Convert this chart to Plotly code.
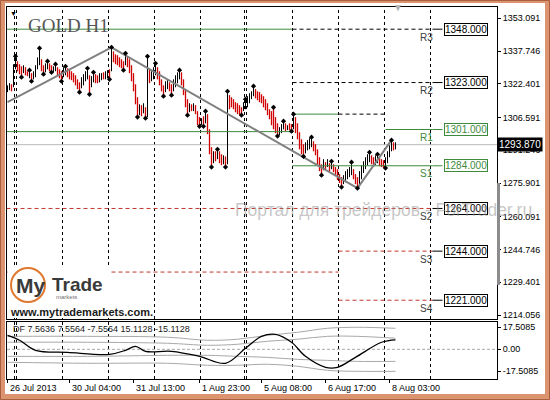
import plotly.graph_objects as go

# ---------------- data ----------------
bar_index = list(range(195))
open_ = [
    1319.0, 1320.8, 1322.0, 1321.2, 1330.6, 1332.6, 1330.8, 1328.6, 1327.8, 1329.8,
    1327.9, 1325.6, 1327.0, 1324.9, 1326.4, 1330.0, 1332.2, 1333.6, 1330.6, 1328.2,
    1329.8, 1331.6, 1330.6, 1328.2, 1328.8, 1329.8, 1328.8, 1327.8, 1326.0, 1327.0,
    1329.2, 1328.8, 1327.8, 1326.9, 1326.0, 1324.1, 1322.7, 1320.8, 1322.2, 1324.1,
    1325.0, 1326.0, 1321.2, 1323.6, 1326.4, 1326.0, 1323.6, 1324.5, 1327.4, 1325.0,
    1325.5, 1328.8, 1328.8, 1337.2, 1335.8, 1335.3, 1334.4, 1333.4, 1332.5, 1331.6,
    1334.8, 1333.4, 1330.6, 1326.9, 1321.7, 1315.6, 1308.2, 1311.9, 1309.1, 1311.0,
    1307.2, 1328.8, 1324.1, 1325.0, 1327.0, 1329.7, 1327.8, 1324.1, 1321.2, 1318.9,
    1320.3, 1322.7, 1321.7, 1319.4, 1321.2, 1323.1, 1325.0, 1327.4, 1324.1, 1319.4,
    1314.7, 1309.6, 1312.4, 1310.0, 1311.9, 1309.1, 1306.3, 1303.5, 1306.8, 1304.4,
    1307.7, 1300.7, 1292.2, 1285.7, 1290.3, 1287.5, 1290.3, 1288.9, 1285.2, 1288.0,
    1285.2, 1316.6, 1315.6, 1314.7, 1313.3, 1312.8, 1311.9, 1311.0, 1310.0, 1311.0,
    1311.9, 1313.8, 1315.6, 1317.1, 1319.4, 1318.5, 1318.0, 1317.1, 1316.1, 1314.7,
    1312.8, 1310.0, 1309.1, 1311.0, 1306.3, 1303.5, 1298.8, 1299.7, 1301.6, 1303.5,
    1301.1, 1303.5, 1303.0, 1301.6, 1306.3, 1303.5, 1299.3, 1296.0, 1293.6, 1290.3,
    1291.7, 1292.2, 1293.1, 1295.0, 1293.6, 1291.2, 1287.5, 1284.3, 1282.4, 1285.2,
    1283.8, 1284.7, 1282.9, 1284.3, 1282.9, 1281.9, 1279.6, 1278.2, 1275.9, 1276.8,
    1278.2, 1279.2, 1280.1, 1281.9, 1279.6, 1278.2, 1275.4, 1278.2, 1281.0, 1282.9,
    1284.7, 1286.1, 1288.4, 1287.5, 1284.7, 1285.7, 1287.5, 1286.6, 1286.1, 1283.4,
    1285.7, 1288.4, 1291.2, 1294.6, 1292.7,
]
high = [
    1321.7, 1322.7, 1322.2, 1331.6, 1335.3, 1333.0, 1331.6, 1330.6, 1331.1, 1330.2,
    1328.3, 1328.8, 1327.4, 1328.3, 1331.1, 1334.8, 1339.1, 1333.9, 1331.1, 1332.0,
    1333.0, 1332.0, 1331.1, 1330.6, 1331.6, 1330.2, 1329.2, 1328.3, 1330.2, 1330.6,
    1329.7, 1329.2, 1328.3, 1327.4, 1326.4, 1324.5, 1323.1, 1325.5, 1326.9, 1328.3,
    1329.7, 1326.4, 1326.0, 1327.8, 1326.9, 1326.4, 1327.4, 1327.4, 1327.8, 1328.3,
    1328.8, 1329.2, 1339.5, 1337.6, 1336.2, 1335.8, 1334.8, 1333.9, 1333.0, 1336.7,
    1335.3, 1333.9, 1331.1, 1327.4, 1322.2, 1316.1, 1312.8, 1312.4, 1313.3, 1311.4,
    1335.3, 1329.2, 1328.3, 1330.2, 1332.0, 1330.2, 1328.3, 1324.5, 1321.7, 1323.6,
    1324.5, 1323.1, 1322.2, 1324.5, 1326.4, 1327.8, 1328.8, 1327.8, 1324.5, 1319.9,
    1315.2, 1313.3, 1312.8, 1313.3, 1312.4, 1309.6, 1306.8, 1306.3, 1307.2, 1309.6,
    1308.2, 1301.1, 1292.7, 1290.8, 1290.8, 1291.7, 1290.8, 1289.4, 1288.9, 1288.4,
    1318.9, 1317.1, 1316.1, 1315.2, 1313.8, 1313.3, 1312.4, 1311.4, 1313.8, 1315.2,
    1316.6, 1318.0, 1318.9, 1321.3, 1319.9, 1318.9, 1318.5, 1317.5, 1316.6, 1315.2,
    1313.3, 1310.5, 1309.6, 1311.4, 1306.8, 1303.9, 1302.1, 1303.5, 1304.9, 1303.9,
    1303.0, 1303.9, 1303.5, 1308.2, 1306.8, 1303.9, 1299.7, 1296.4, 1294.1, 1295.0,
    1296.0, 1296.9, 1297.4, 1295.5, 1294.1, 1291.7, 1288.0, 1284.7, 1287.1, 1285.7,
    1287.1, 1285.2, 1286.1, 1284.7, 1283.4, 1282.4, 1280.1, 1278.7, 1279.6, 1281.5,
    1282.4, 1283.4, 1285.7, 1282.4, 1280.1, 1278.7, 1281.5, 1284.3, 1286.1, 1288.0,
    1289.4, 1290.3, 1288.9, 1288.0, 1288.9, 1289.4, 1288.0, 1287.1, 1286.6, 1288.0,
    1290.8, 1293.6, 1296.0, 1295.0, 1295.0,
]
low = [
    1318.5, 1319.4, 1318.9, 1320.8, 1329.2, 1328.3, 1326.9, 1325.5, 1327.4, 1326.4,
    1326.0, 1325.0, 1323.6, 1324.5, 1325.5, 1329.2, 1331.1, 1328.3, 1326.9, 1327.8,
    1329.2, 1328.3, 1327.8, 1327.8, 1328.3, 1326.4, 1325.0, 1323.6, 1325.5, 1326.4,
    1325.5, 1324.5, 1324.1, 1323.1, 1321.7, 1319.9, 1318.5, 1320.3, 1321.7, 1323.6,
    1324.5, 1317.5, 1320.8, 1323.1, 1322.7, 1322.7, 1323.1, 1324.1, 1324.5, 1324.5,
    1325.0, 1324.5, 1328.3, 1332.5, 1331.6, 1331.1, 1330.2, 1329.7, 1328.8, 1331.1,
    1330.2, 1327.4, 1323.6, 1318.9, 1312.8, 1306.8, 1307.7, 1307.2, 1308.6, 1306.3,
    1306.8, 1322.7, 1323.6, 1324.5, 1326.4, 1324.5, 1321.7, 1318.9, 1316.6, 1318.5,
    1319.9, 1318.9, 1317.1, 1318.9, 1320.8, 1322.7, 1324.5, 1321.7, 1317.1, 1311.4,
    1307.7, 1309.1, 1309.6, 1309.6, 1308.2, 1303.0, 1302.5, 1303.0, 1302.5, 1303.9,
    1298.8, 1289.4, 1283.4, 1285.2, 1286.1, 1287.1, 1285.2, 1284.3, 1284.7, 1283.4,
    1284.7, 1310.5, 1311.4, 1310.5, 1309.1, 1308.2, 1307.7, 1307.7, 1309.6, 1310.5,
    1311.4, 1313.3, 1315.2, 1316.6, 1315.6, 1314.7, 1313.8, 1313.3, 1311.4, 1310.0,
    1307.7, 1305.8, 1303.0, 1301.1, 1299.3, 1297.9, 1298.3, 1299.3, 1301.1, 1300.2,
    1300.7, 1300.7, 1300.2, 1301.1, 1299.3, 1296.4, 1291.7, 1289.4, 1288.4, 1289.8,
    1291.2, 1291.7, 1292.7, 1290.8, 1288.9, 1284.7, 1281.5, 1279.6, 1281.9, 1282.4,
    1283.4, 1281.5, 1282.4, 1281.0, 1279.2, 1277.3, 1275.9, 1274.0, 1275.4, 1276.3,
    1277.7, 1278.7, 1279.6, 1277.7, 1275.4, 1273.5, 1274.9, 1277.7, 1280.6, 1282.4,
    1284.3, 1285.7, 1284.7, 1283.4, 1284.3, 1285.2, 1283.8, 1283.4, 1282.9, 1282.9,
    1285.2, 1288.0, 1290.8, 1291.2, 1291.7,
]
close = [
    1321.2, 1322.2, 1319.6, 1330.8, 1334.2, 1329.0, 1327.4, 1326.0, 1330.4, 1327.0,
    1326.4, 1328.0, 1324.0, 1327.6, 1330.6, 1334.0, 1337.8, 1328.8, 1327.4, 1331.4,
    1332.4, 1328.8, 1328.2, 1330.2, 1331.0, 1326.9, 1325.5, 1324.1, 1329.7, 1330.0,
    1326.0, 1325.0, 1324.5, 1323.6, 1322.2, 1320.3, 1319.0, 1325.0, 1326.4, 1327.8,
    1329.2, 1318.0, 1325.5, 1327.4, 1323.1, 1323.1, 1326.9, 1326.9, 1325.0, 1327.8,
    1328.3, 1325.0, 1338.6, 1333.0, 1332.0, 1331.6, 1330.6, 1330.2, 1329.2, 1336.2,
    1330.6, 1327.8, 1324.1, 1319.4, 1313.3, 1307.2, 1312.4, 1307.7, 1312.8, 1306.8,
    1330.0, 1323.1, 1327.8, 1329.7, 1331.6, 1325.0, 1322.2, 1319.4, 1317.1, 1323.1,
    1324.1, 1319.4, 1317.5, 1324.1, 1326.0, 1327.4, 1328.3, 1322.2, 1317.5, 1311.9,
    1308.2, 1312.8, 1310.0, 1312.8, 1308.6, 1303.5, 1303.0, 1305.8, 1303.0, 1309.1,
    1299.3, 1289.8, 1283.8, 1290.3, 1286.6, 1291.2, 1285.7, 1284.7, 1288.4, 1283.8,
    1314.7, 1311.0, 1311.9, 1311.0, 1309.6, 1308.6, 1308.2, 1308.2, 1313.3, 1314.7,
    1316.1, 1317.5, 1318.5, 1320.8, 1316.1, 1315.2, 1314.2, 1313.8, 1311.9, 1310.5,
    1308.2, 1306.3, 1303.5, 1301.6, 1299.7, 1298.3, 1301.6, 1303.0, 1304.4, 1300.7,
    1302.5, 1301.1, 1300.7, 1307.7, 1299.7, 1296.9, 1292.2, 1289.8, 1288.9, 1294.6,
    1295.5, 1296.4, 1296.9, 1291.2, 1289.4, 1285.2, 1281.9, 1280.1, 1286.6, 1282.9,
    1286.6, 1281.9, 1285.7, 1281.5, 1279.6, 1277.7, 1276.3, 1274.4, 1279.2, 1281.0,
    1281.9, 1282.9, 1285.2, 1278.2, 1275.9, 1274.0, 1281.0, 1283.8, 1285.7, 1287.5,
    1288.9, 1289.8, 1285.2, 1283.8, 1288.4, 1288.9, 1284.3, 1283.8, 1283.4, 1287.5,
    1290.3, 1293.1, 1295.5, 1292.7, 1293.87,
]
current_price = 1293.87

fractal_up = [4, 11, 16, 20, 24, 29, 40, 43, 52, 59, 70, 74, 86, 99, 105, 110, 119,
              123, 133, 138, 143, 152, 162, 172, 181, 185, 192]
fractal_down = [7, 12, 18, 22, 27, 36, 41, 51, 58, 65, 69, 78, 82, 90, 96, 98, 102,
                109, 117, 135, 142, 148, 157, 167, 175, 189]

zigzag_idx = [0, 52, 175, 192]
zigzag_price = [1313.8, 1339.5, 1273.5, 1296.0]

# pivot segments (price, from bar, to bar, kind)
seg_price = [1348.0, 1348.0, 1323.0, 1308.2, 1308.2, 1301.0, 1300.0, 1284.0,
             1264.0, 1234.2, 1244.0, 1221.0]
seg_from = [-0.5, 142.5, 142.5, 142.5, 165.5, 189.0, -0.5, 142.5, -0.5, -0.5, 165.5, 165.5]
seg_to = [142.5, 212.5, 212.5, 165.5, 189.0, 212.5, 142.5, 212.5, 212.5, 165.5, 212.5, 212.5]
seg_kind = ["prev", "cur", "cur", "prev", "cur", "prev", "prev", "prev",
            "sup", "sup", "sup", "sup"]

level_names = ["R3", "R2", "R1", "S1", "S2", "S3", "S4"]
level_values = [1348.0, 1323.0, 1301.0, 1284.0, 1264.0, 1244.0, 1221.0]

day_separators = [3.5, 4.5, 27.5, 50.5, 73.5, 96.5, 118.5, 119.5, 142.5, 165.5, 188.5, 211.5]

time_tick_idx = [0, 31, 63, 96, 127, 159, 191]
time_tick_text = ["26 Jul 2013", "30 Jul 04:00", "31 Jul 13:00", "1 Aug 23:00",
                  "5 Aug 08:00", "6 Aug 17:00", "8 Aug 03:00"]

price_ticks = [1353.091, 1337.746, 1322.401, 1306.591, 1291.246, 1275.901,
               1260.091, 1244.746, 1229.401, 1214.056]

df_idx = [0, 6, 14, 30, 51, 59, 64, 69, 82, 96, 109, 119, 127, 134, 142, 149,
          159, 165, 174, 187, 194]
df_value = [11.1, 7.2, -0.8, -2.4, -4.0, -0.8, 2.4, -1.6, -1.6, -5.6, -11.1, 0.8,
            10.3, 11.9, 5.6, -5.6, -14.3, -14.3, -6.4, 5.6, 7.5636]
band_idx = [0, 40, 80, 100, 115, 130, 145, 160, 175, 194]
band_up_outer = [10.3, 10.3, 9.6, 7.2, 8.0, 11.1, 13.5, 16.7, 17.5, 16.7]
band_up_inner = [5.6, 5.6, 4.8, 3.2, 4.0, 6.4, 8.0, 10.3, 10.3, 8.8]
band_dn_inner = [-5.6, -5.6, -4.8, -4.8, -5.6, -6.4, -8.0, -8.8, -9.6, -9.6]
band_dn_outer = [-10.3, -11.1, -11.1, -12.7, -12.7, -11.9, -13.5, -16.7, -17.5, -17.5]
df_legend = "DF 7.5636 7.5564 -7.5564 15.1128 -15.1128"
df_ticks = [17.5085, 0.0, -17.5085]
df_ticktext = ["17.5085", "0.00", "-17.5085"]

# ---------------- styling ----------------
GREEN = "#3d8a3d"
RED_BAR = "#d00000"
RED_LINE = "#c0392b"
FONT = "Liberation Sans"
X_RANGE = [-0.25, 244.75]

# pixel helpers for decorations (plot area: x 7..497, y 7..379)
def px(xp):
    return (xp - 7) / 490.0

def py(yp):
    return (379 - yp) / 372.0

fig = go.Figure()

# pivot segments
kind_style = {
    "prev": dict(color=GREEN, width=1, dash="solid"),
    "cur": dict(color="#000000", width=1, dash="4px,3px"),
    "sup": dict(color=RED_LINE, width=1, dash="4px,3px"),
}
for kind in ["prev", "cur", "sup"]:
    xs, ys = [], []
    for p, a, b, k in zip(seg_price, seg_from, seg_to, seg_kind):
        if k == kind:
            xs += [a, b, None]
            ys += [p, p, None]
    fig.add_trace(go.Scatter(x=xs, y=ys, mode="lines", line=kind_style[kind],
                             hoverinfo="skip", xaxis="x", yaxis="y"))

# connectors to the level boxes
for name, v in zip(level_names, level_values):
    col = GREEN if name in ("R1", "S1") else "#000000"
    fig.add_trace(go.Scatter(x=[212.5, 217.5], y=[v, v], mode="lines",
                             line=dict(color=col, width=1), hoverinfo="skip",
                             xaxis="x", yaxis="y"))

# price bars
fig.add_trace(go.Ohlc(
    x=bar_index, open=open_, high=high, low=low, close=close,
    increasing=dict(line=dict(color="#000000", width=1)),
    decreasing=dict(line=dict(color=RED_BAR, width=1.3)),
    tickwidth=0, hoverinfo="skip", xaxis="x", yaxis="y"))

# zigzag
fig.add_trace(go.Scatter(x=zigzag_idx, y=zigzag_price, mode="lines",
                         line=dict(color="#808080", width=2), hoverinfo="skip",
                         xaxis="x", yaxis="y"))

# fractals
fig.add_trace(go.Scatter(x=fractal_up, y=[high[i] for i in fractal_up], mode="markers",
                         marker=dict(symbol="diamond", size=4, color="#000000"),
                         hoverinfo="skip", xaxis="x", yaxis="y"))
fig.add_trace(go.Scatter(x=fractal_down, y=[low[i] for i in fractal_down], mode="markers",
                         marker=dict(symbol="diamond", size=4, color="#000000"),
                         hoverinfo="skip", xaxis="x", yaxis="y"))

# lower panel
for band in [band_up_outer, band_up_inner, band_dn_inner, band_dn_outer]:
    fig.add_trace(go.Scatter(x=band_idx, y=band, mode="lines", line_shape="spline",
                             line=dict(color="#a8a8a8", width=1), hoverinfo="skip",
                             xaxis="x2", yaxis="y2"))
fig.add_trace(go.Scatter(x=df_idx, y=df_value, mode="lines", line_shape="spline",
                         line=dict(color="#000000", width=1.3), hoverinfo="skip",
                         xaxis="x2", yaxis="y2"))

shapes = []
# white interior of the window frame
shapes.append(dict(type="rect", xref="paper", yref="paper", layer="below",
                   x0=px(5), x1=px(545), y0=py(394), y1=py(3),
                   fillcolor="white", line=dict(width=0)))
shapes.append(dict(type="rect", xref="paper", yref="paper", layer="below",
                   x0=px(0.5), x1=px(549.5), y0=py(399.5), y1=py(0.5),
                   fillcolor="rgba(0,0,0,0)", line=dict(color="#a8603e", width=1)))
# day separators
for s in day_separators:
    for yr in ["y domain", "y2 domain"]:
        shapes.append(dict(type="line", xref="x", yref=yr, x0=s, x1=s, y0=0, y1=1,
                           layer="below", line=dict(color="#000000", width=1, dash="3px,3px")))
# current price line
shapes.append(dict(type="line", xref="paper", yref="y", x0=0, x1=1,
                   y0=current_price, y1=current_price, layer="below",
                   line=dict(color="#b8b8b8", width=1)))
# zero line of lower panel
shapes.append(dict(type="line", xref="paper", yref="y2", x0=0, x1=px(501),
                   y0=0, y1=0, layer="below",
                   line=dict(color="#a8a8a8", width=1, dash="3px,2px")))
# right gray bar
shapes.append(dict(type="line", xref="paper", yref="paper", x0=px(498.5), x1=px(498.5),
                   y0=py(285), y1=py(183), line=dict(color="#8c8c8c", width=3)))
# logo background boxes
shapes.append(dict(type="rect", xref="paper", yref="paper", layer="above",
                   x0=px(7.6), x1=px(110), y0=py(318), y1=py(268),
                   fillcolor="white", line=dict(width=0)))
shapes.append(dict(type="rect", xref="paper", yref="paper", layer="above",
                   x0=px(7.6), x1=px(153), y0=py(318), y1=py(303),
                   fillcolor="white", line=dict(width=0)))
shapes.append(dict(type="circle", xref="paper", yref="paper", layer="above",
                   x0=px(11), x1=px(45), y0=py(302), y1=py(268),
                   line=dict(color="#e0782e", width=2)))

annotations = []
annotations.append(dict(xref="paper", yref="paper", x=px(26), y=py(26), xanchor="left",
                        yanchor="middle", text="GOLD H1", showarrow=False,
                        font=dict(family="Liberation Serif", size=19, color="#555555")))
annotations.append(dict(xref="paper", yref="paper", x=px(13), y=py(14), xanchor="center",
                        yanchor="middle", text="▼", showarrow=False,
                        font=dict(family=FONT, size=7, color="#000000")))
annotations.append(dict(xref="paper", yref="paper", x=px(398), y=py(8), xanchor="center",
                        yanchor="middle", text="▼", showarrow=False,
                        font=dict(family=FONT, size=10, color="#b0b0b0")))
for name, v in zip(level_names, level_values):
    col = GREEN if name in ("R1", "S1") else "#000000"
    ncol = GREEN if name in ("R1", "S1") else "#404040"
    annotations.append(dict(xref="x", yref="y", x=229, y=v, xanchor="center",
                            yanchor="middle", text=f"{v:.3f}", showarrow=False,
                            bgcolor="white", bordercolor=col, borderwidth=1, borderpad=0,
                            font=dict(family=FONT, size=10, color=col)))
    annotations.append(dict(xref="x", yref="y", x=213.8, y=v, xanchor="right",
                            yanchor="middle", yshift=-8, text=name, showarrow=False,
                            font=dict(family=FONT, size=10, color=ncol)))
annotations.append(dict(xref="paper", yref="y", x=1.0, y=current_price, xanchor="left",
                        yanchor="middle", text=f"{current_price:.3f}", showarrow=False,
                        bgcolor="#000000", borderpad=1,
                        font=dict(family=FONT, size=10, color="white")))
annotations.append(dict(xref="paper", yref="paper", x=px(11), y=py(329), xanchor="left",
                        yanchor="middle", text=df_legend, showarrow=False,
                        font=dict(family=FONT, size=9, color="#202020")))
for t, lab in zip(time_tick_idx, time_tick_text):
    annotations.append(dict(xref="x", yref="paper", x=t, y=py(388), xanchor="left",
                            yanchor="middle", text=lab, showarrow=False,
                            font=dict(family=FONT, size=9, color="#000000")))
# logo
annotations.append(dict(xref="paper", yref="paper", x=px(14), y=py(285), xanchor="left",
                        yanchor="middle", text="<b>My</b>", showarrow=False,
                        font=dict(family=FONT, size=21, color="#3a3a3a")))
annotations.append(dict(xref="paper", yref="paper", x=px(50), y=py(284), xanchor="left",
                        yanchor="middle", text="<b>Trade</b>", showarrow=False,
                        font=dict(family=FONT, size=19, color="#3a3a3a")))
annotations.append(dict(xref="paper", yref="paper", x=px(54), y=py(297), xanchor="left",
                        yanchor="middle", text="markets", showarrow=False,
                        font=dict(family=FONT, size=6, color="#707070")))
annotations.append(dict(xref="paper", yref="paper", x=px(8), y=py(312), xanchor="left",
                        yanchor="middle", text="<b>www.mytrademarkets.com.</b>", showarrow=False,
                        font=dict(family=FONT, size=11, color="#1a1a1a")))
# watermark
annotations.append(dict(xref="paper", yref="paper", x=px(233), y=py(210), xanchor="left",
                        yanchor="middle", text="Портал для трейдеров - ForTrader.ru",
                        showarrow=False,
                        font=dict(family=FONT, size=17.5, color="rgba(150,150,150,0.55)")))

axis_common = dict(showgrid=False, zeroline=False, showline=True, linecolor="#000000",
                   linewidth=1, mirror=True, fixedrange=True)

fig.update_layout(
    width=550, height=400,
    margin=dict(l=7, r=53, t=7, b=21),
    paper_bgcolor="#dc9470",
    plot_bgcolor="white",
    showlegend=False,
    xaxis=dict(domain=[0, 1], range=X_RANGE, anchor="y", showticklabels=False,
               ticks="", rangeslider=dict(visible=False), **axis_common),
    yaxis=dict(domain=[py(319), 1], range=[1212.2, 1358.4], side="right", anchor="x",
               tickvals=price_ticks, ticktext=[f"{v:.3f}" for v in price_ticks],
               ticks="outside", ticklen=3, tickcolor="#000000",
               tickfont=dict(family=FONT, size=9, color="#000000"), **axis_common),
    xaxis2=dict(domain=[0, 1], range=X_RANGE, anchor="y2", tickvals=time_tick_idx,
                ticktext=["" for _ in time_tick_idx], ticks="outside", ticklen=3,
                tickcolor="#000000", rangeslider=dict(visible=False), **axis_common),
    yaxis2=dict(domain=[0, py(322)], range=[-23.6, 21.7], side="right", anchor="x2",
                tickvals=df_ticks, ticktext=df_ticktext, ticks="outside", ticklen=3,
                tickcolor="#000000",
                tickfont=dict(family=FONT, size=9, color="#000000"), **axis_common),
    shapes=shapes,
    annotations=annotations,
)

fig.write_html("out.html",
               config={"displayModeBar": False, "staticPlot": True},
               post_script="document.body.style.margin='0';document.body.style.padding='0';"
                           "document.body.style.overflow='hidden';")
